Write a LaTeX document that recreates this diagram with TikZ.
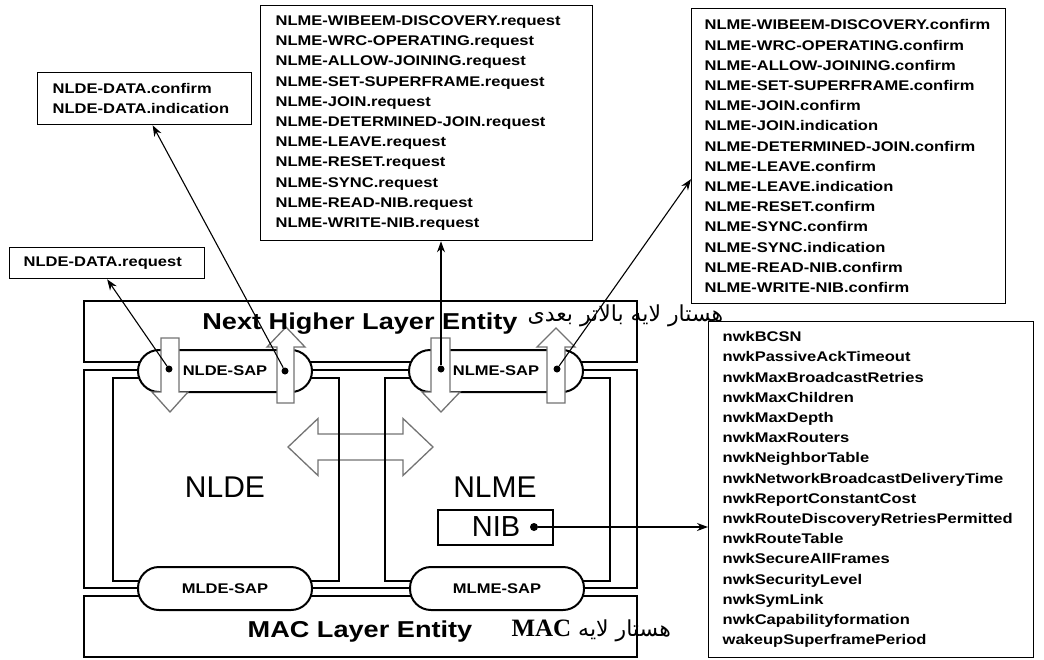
\documentclass[tikz,border=0pt]{standalone}
\usepackage{fontspec}
\setmainfont{Liberation Sans}
\newfontfamily\widefont[FakeStretch=1.18]{Liberation Sans}
\newfontfamily\persfont[Script=Arabic]{DejaVu Sans}
\newfontfamily\serifont{Liberation Serif}
\TeXXeTstate=1
\exhyphenpenalty=10000
\hyphenpenalty=10000
\usepackage{tikz}
\usetikzlibrary{arrows.meta,positioning,calc}

\begin{document}
\begin{tikzpicture}[x=1pt,y=-1pt,
    frame/.style={draw,line width=2.4pt},
    sap/.style={draw,fill=white,line width=2pt,rounded corners=21pt,minimum width=174pt,minimum height=42pt,inner sep=0pt,font=\widefont\bfseries\fontsize{14}{16}\selectfont},
    barrow/.style={draw=black!55,fill=white,line width=1.3pt},
    listbox/.style={draw,line width=1.3pt,anchor=north west,align=left,inner ysep=0pt,font=\widefont\bfseries\fontsize{14}{20.2}\selectfont},
    sapdot/.style={circle,fill=black,inner sep=0pt,minimum size=7pt},
    link/.style={-{Stealth[length=11pt,width=8pt]},line width=1.1pt},
    big/.style={font=\fontsize{30}{34}\selectfont},
    farsi/.style={anchor=west,font=\persfont\fontsize{22}{24}\selectfont}
  ]
    \useasboundingbox (0,0) rectangle (1044,659);

    % Exchange between NLDE and NLME
    \draw[barrow] (288,447) -- (318,418.5) -- (318,434) -- (403,434) -- (403,418.5) -- (433,447) -- (403,475.5) -- (403,460) -- (318,460) -- (318,475.5) -- cycle;

    % Layer frames
    \draw[frame] (84,301) rectangle (637,362);
    \draw[frame] (84,370) rectangle (637,588);
    \draw[frame] (113,378) rectangle (339,581);
    \draw[frame] (385,378) rectangle (610,581);
    \draw[frame] (84,596) rectangle (637,657);

    % Service access points
    \node[sap] (nldesap) at (225,371) {NLDE-SAP};
    \node[sap] (nlmesap) at (496,371) {NLME-SAP};
    \node[sap,minimum height=43pt] (mldesap) at (225,588.5) {MLDE-SAP};
    \node[sap,minimum height=43pt] (mlmesap) at (497,588.5) {MLME-SAP};

    % Primitive flow through the SAPs
    \draw[barrow] (161,338) -- (179,338) -- (179,392) -- (188,392) -- (170,412) -- (152,392) -- (161,392) -- cycle;
    \draw[barrow] (277,403) -- (277,347) -- (267,347) -- (286,327) -- (305,347) -- (294,347) -- (294,403) -- cycle;
    \draw[barrow] (431,338) -- (450,338) -- (450,392) -- (460,392) -- (441,412) -- (422,392) -- (431,392) -- cycle;
    \draw[barrow] (547,403) -- (547,347) -- (537,347) -- (556,328) -- (575,347) -- (565,347) -- (565,403) -- cycle;

    \node[sapdot] (d1) at (169,369) {};
    \node[sapdot] (d2) at (285,371) {};
    \node[sapdot] (d3) at (441,369) {};
    \node[sapdot] (d4) at (557,369) {};

    % Entity labels
    \node[font=\widefont\bfseries\fontsize{23}{26}\selectfont] (nhletext) at (360,324) {Next Higher Layer Entity};
    \node[farsi] (nhlefa) at (524,316) {\beginR هستار لایه بالاتر بعدی\endR};
    \node[font=\widefont\bfseries\fontsize{23}{26}\selectfont] (mactext) at (360,632) {MAC Layer Entity};
    \node[farsi] (macfa) at (508,631) {\beginR هستار لایه \beginL{\serifont\bfseries\fontsize{25}{27}\selectfont MAC}\endL\endR};

    \node[big] (nlde) at (225,487) {NLDE};
    \node[big] (nlme) at (495,487) {NLME};
    \node[draw,line width=1.2pt,minimum width=115pt,minimum height=35pt] (nib) at (495.5,527.5) {};
    \node[font=\fontsize{29}{32}\selectfont] (nibtext) at (496,527) {NIB};
    \node[sapdot,minimum size=8pt] (nibdot) at (534,527) {};

    % Primitive lists
    \node[listbox,inner xsep=15pt,text width=184pt,minimum height=52pt] (dconf) at (37,72) {NLDE-DATA.confirm\\NLDE-DATA.indication};
    \node[listbox,inner xsep=14pt,text width=167pt,minimum height=31pt] (dreq) at (9,247) {NLDE-DATA.request};
    \node[listbox,inner xsep=15pt,text width=302pt,minimum height=235pt] (nreq) at (260,5) {NLME-WIBEEM-DISCOVERY.request\\NLME-WRC-OPERATING.request\\NLME-ALLOW-JOINING.request\\NLME-SET-SUPERFRAME.request\\NLME-JOIN.request\\NLME-DETERMINED-JOIN.request\\NLME-LEAVE.request\\NLME-RESET.request\\NLME-SYNC.request\\NLME-READ-NIB.request\\NLME-WRITE-NIB.request};
    \node[listbox,inner xsep=13pt,text width=288pt,minimum height=295pt] (ncon) at (691,8) {NLME-WIBEEM-DISCOVERY.confirm\\NLME-WRC-OPERATING.confirm\\NLME-ALLOW-JOINING.confirm\\NLME-SET-SUPERFRAME.confirm\\NLME-JOIN.confirm\\NLME-JOIN.indication\\NLME-DETERMINED-JOIN.confirm\\NLME-LEAVE.confirm\\NLME-LEAVE.indication\\NLME-RESET.confirm\\NLME-SYNC.confirm\\NLME-SYNC.indication\\NLME-READ-NIB.confirm\\NLME-WRITE-NIB.confirm};
    \node[listbox,inner xsep=14pt,text width=297pt,minimum height=336pt] (nattr) at (708,321) {nwkBCSN\\nwkPassiveAckTimeout\\nwkMaxBroadcastRetries\\nwkMaxChildren\\nwkMaxDepth\\nwkMaxRouters\\nwkNeighborTable\\nwkNetworkBroadcastDeliveryTime\\nwkReportConstantCost\\nwkRouteDiscoveryRetriesPermitted\\nwkRouteTable\\nwkSecureAllFrames\\nwkSecurityLevel\\nwkSymLink\\nwkCapabilityformation\\wakeupSuperframePeriod};

    % Links to the lists
    \draw[link] (d1) -- (dreq.south);
    \draw[link] (d2) -- ($(dconf.south)+(8,0)$);
    \draw[link] (d3) -- (d3 |- nreq.south);
    \draw[link] (d4) -- ($(ncon.west)+(0,23)$);
    \draw[link] (nibdot) -- (nibdot -| nattr.west);
  \end{tikzpicture}
\end{document}
